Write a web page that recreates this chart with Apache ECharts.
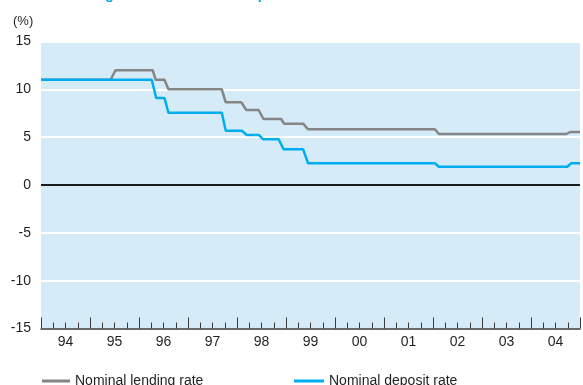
<!DOCTYPE html>
<html><head><meta charset="utf-8">
<script src="https://cdn.jsdelivr.net/npm/echarts@6/dist/echarts.min.js"></script>
<style>html,body{margin:0;padding:0;background:#fff}#c{width:583px;height:385px}</style>
</head><body><div id="c"></div>
<script>
const titleText = 'Nominal lending rates and nominal deposit rates';
const unitLabel = '(%)';
const yearLabels = ['94','95','96','97','98','99','00','01','02','03','04'];
const seriesNames = ['Nominal lending rate', 'Nominal deposit rate'];

const lendingDates = [1994.00, 1995.42, 1995.52, 1996.28, 1996.34, 1996.52, 1996.60, 1997.69, 1997.77, 1998.09, 1998.19, 1998.44, 1998.54, 1998.90, 1998.96, 1999.35, 1999.45, 2002.04, 2002.12, 2004.72, 2004.80, 2005.00];
const lendingRates = [11.0, 11.0, 12.0, 12.0, 11.0, 11.0, 10.0, 10.0, 8.64, 8.64, 7.84, 7.84, 6.90, 6.90, 6.41, 6.41, 5.82, 5.82, 5.33, 5.33, 5.54, 5.54];

const depositDates = [1994.00, 1996.26, 1996.35, 1996.52, 1996.60, 1997.69, 1997.77, 1998.10, 1998.20, 1998.45, 1998.53, 1998.85, 1998.95, 1999.35, 1999.45, 2002.04, 2002.12, 2004.74, 2004.82, 2005.00];
const depositRates = [11.0, 11.0, 9.10, 9.10, 7.55, 7.55, 5.67, 5.67, 5.22, 5.22, 4.78, 4.78, 3.73, 3.73, 2.27, 2.27, 1.91, 1.91, 2.27, 2.27];

const pairs = (xs, ys) => xs.map((x, i) => [x, ys[i]]);

const chart = echarts.init(document.getElementById('c'), null, {renderer: 'canvas'});
const font = '"Liberation Sans", Arial, sans-serif';
chart.setOption({
  animation: false,
  textStyle: {fontFamily: font},
  graphic: [{
    type: 'text', x: 5, y: 2,
    style: {text: titleText, fill: '#00a6e6', font: 'bold 14px ' + font, verticalAlign: 'bottom', align: 'left'}
  }, {
    type: 'text', left: 13, top: 15,
    style: {text: unitLabel, fill: '#231f20', font: '13px ' + font}
  }],
  legend: [
    {data: [seriesNames[0]], left: 42, top: 374, padding: 0, icon: 'rect', itemWidth: 28, itemHeight: 3, itemGap: 0,
     textStyle: {color: '#231f20', fontSize: 14, fontFamily: font}},
    {data: [seriesNames[1]], left: 294, top: 374, padding: 0, icon: 'rect', itemWidth: 30, itemHeight: 3, itemGap: 0,
     textStyle: {color: '#231f20', fontSize: 14, fontFamily: font}}
  ],
  grid: {left: 41, right: -4, top: 41.5, bottom: 56.5, show: true, backgroundColor: '#d5ebf8', borderWidth: 0, containLabel: false},
  xAxis: [{
    type: 'value', min: 1994, max: 2005, interval: 1,
    axisLine: {show: true, onZero: false, lineStyle: {color: '#3a3a3a', width: 1.5}},
    axisTick: {show: true, inside: true, length: 11, lineStyle: {color: '#3a3a3a', width: 1}},
    minorTick: {show: true, splitNumber: 4, length: 6, lineStyle: {color: '#3a3a3a', width: 1}},
    axisLabel: {show: false},
    splitLine: {show: false}
  }, {
    type: 'value', min: 1994, max: 2005, interval: 0.5, position: 'bottom',
    axisLine: {show: false, onZero: false}, axisTick: {show: false}, splitLine: {show: false},
    axisLabel: {
      show: true, margin: 7, color: '#231f20', fontSize: 14, fontFamily: font,
      formatter: v => {
        const f = v - Math.floor(v);
        if (Math.abs(f - 0.5) > 0.01) return '';
        const lab = yearLabels[Math.floor(v) - 1994];
        return lab === undefined ? '' : lab;
      }
    }
  }],
  yAxis: {
    type: 'value', min: -15, max: 15, interval: 5,
    axisLine: {show: false}, axisTick: {show: false},
    axisLabel: {margin: 10, color: '#231f20', fontSize: 14, fontFamily: font},
    splitLine: {show: true, lineStyle: {color: '#ffffff', width: 2}}
  },
  series: [{
    name: seriesNames[0], type: 'line', xAxisIndex: 0, data: pairs(lendingDates, lendingRates),
    showSymbol: false, symbol: 'none', color: '#858585',
    lineStyle: {color: '#858585', width: 2.5},
    markLine: {silent: true, symbol: 'none', label: {show: false},
      lineStyle: {color: '#1a1a1a', width: 2, type: 'solid'}, data: [{yAxis: 0}]}
  }, {
    name: seriesNames[1], type: 'line', xAxisIndex: 0, data: pairs(depositDates, depositRates),
    showSymbol: false, symbol: 'none', color: '#00aeef',
    lineStyle: {color: '#00aeef', width: 2.5}
  }]
});
</script>
</body></html>
